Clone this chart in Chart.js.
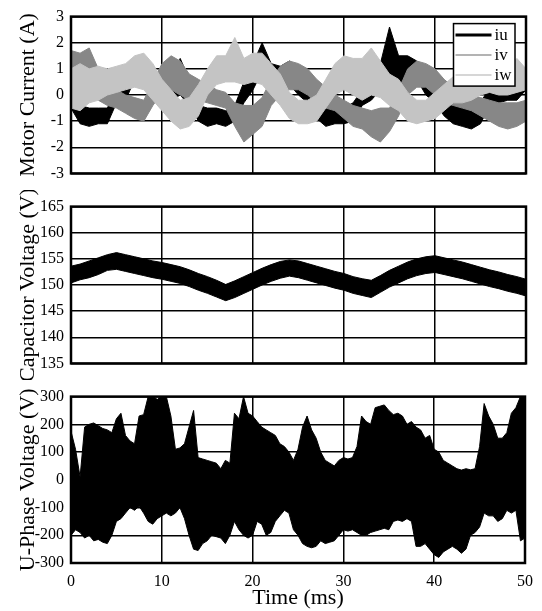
<!DOCTYPE html>
<html>
<head>
<meta charset="utf-8">
<script src="https://cdn.jsdelivr.net/npm/chart.js@4.4.1/dist/chart.umd.min.js"></script>
<style>
html, body { margin: 0; background: #fff; }
#wrap { position: relative; width: 542px; height: 611px; }
canvas { position: absolute; left: 0; }
</style>
</head>
<body>
<div id="wrap">
  <canvas id="c1" width="542" height="190" style="top:0"></canvas>
  <canvas id="c2" width="542" height="190" style="top:190px"></canvas>
  <canvas id="c3" width="542" height="231" style="top:380px"></canvas>
</div>
<script>
'use strict';
// time axis, ms
const tMs = [0,1,2,3,4,5,6,7,8,9,10,11,12,13,14,15,16,17,18,19,20,21,22,23,24,25,26,27,28,29,30,31,32,33,34,35,36,37,38,39,40,41,42,43,44,45,46,47,48,49,50];
const tHalf = [0,0.5,1,1.5,2,2.5,3,3.5,4,4.5,5,5.5,6,6.5,7,7.5,8,8.5,9,9.5,10,10.5,11,11.5,12,12.5,13,13.5,14,14.5,15,15.5,16,16.5,17,17.5,18,18.5,19,19.5,20,20.5,21,21.5,22,22.5,23,23.5,24,24.5,25,25.5,26,26.5,27,27.5,28,28.5,29,29.5,30,30.5,31,31.5,32,32.5,33,33.5,34,34.5,35,35.5,36,36.5,37,37.5,38,38.5,39,39.5,40,40.5,41,41.5,42,42.5,43,43.5,44,44.5,45,45.5,46,46.5,47,47.5,48,48.5,49,49.5,50];
const timeTicks = [0, 10, 20, 30, 40, 50];

// motor currents (A): upper / lower edge of each noisy trace
const iuHi = [0.3,-0.4,-0.5,-0.5,-0.5,0.3,0.6,1.3,1.0,0.8,0.5,0.5,1.4,0.6,-0.4,-0.5,-0.5,-0.6,-0.4,0.5,1.2,2.0,1.2,1.1,1.3,1.0,0.4,-0.2,-0.4,-0.4,-0.5,-0.3,0.2,0.4,1.2,2.6,1.5,1.5,1.3,0.6,0.3,-0.2,-0.3,-0.4,-0.5,-0.3,0.3,0.2,0.2,0.1,0.7];
const iuLo = [-0.5,-1.1,-1.2,-1.1,-1.1,-0.3,-0.2,0.6,0.3,0.1,-0.3,-0.2,0.0,-0.4,-1.0,-1.2,-1.1,-1.2,-1.0,-0.3,0.2,0.9,0.4,0.2,0.4,0.0,-0.3,-0.9,-1.2,-1.1,-1.1,-1.0,-0.4,-0.2,0.2,0.8,0.4,0.7,0.6,0.0,-0.3,-0.8,-1.1,-1.2,-1.3,-1.1,-0.4,-0.3,-0.2,-0.2,0.2];
const ivHi = [1.7,1.6,1.8,1.0,0.6,0.2,0.0,-0.1,-0.2,0.5,1.2,1.5,1.3,0.8,0.6,0.4,0.2,0.1,-0.3,-0.4,-0.4,-0.1,0.6,1.1,1.3,1.2,1.0,0.6,0.3,0.0,-0.2,-0.4,-0.5,-0.6,-0.5,-0.5,0.2,1.0,1.3,1.2,1.0,0.6,0.3,0.2,0.0,-0.1,-0.2,-0.3,-0.3,-0.3,-0.2];
const ivLo = [0.2,0.0,0.4,-0.2,-0.4,-0.5,-0.7,-0.9,-1.0,-0.4,0.1,0.2,0.0,-0.2,-0.2,-0.3,-0.4,-0.5,-1.2,-1.8,-1.5,-1.2,-0.4,0.0,0.2,0.2,0.0,-0.3,-0.5,-0.6,-0.9,-1.2,-1.3,-1.6,-1.8,-1.4,-0.8,0.0,0.3,0.3,0.0,-0.3,-0.4,-0.5,-0.6,-0.8,-1.0,-1.2,-1.3,-1.2,-1.0];
const iwHi = [1.0,1.2,1.0,1.1,1.0,1.1,1.2,1.5,1.6,1.2,0.6,0.2,-0.2,-0.1,0.4,1.0,1.5,1.5,2.2,1.4,1.6,1.6,1.2,0.8,0.1,-0.2,-0.2,0.0,0.6,1.2,1.5,1.4,1.4,1.8,1.3,0.8,0.6,0.1,-0.2,-0.2,0.1,0.4,0.7,0.8,0.9,1.0,1.3,1.1,1.0,1.4,1.0];
const iwLo = [-0.5,-0.6,-0.3,-0.2,0.0,0.1,0.2,0.3,0.2,-0.2,-0.6,-1.0,-1.3,-1.2,-0.8,0.0,0.4,0.5,0.5,0.4,0.5,0.4,0.0,-0.4,-0.9,-1.1,-1.1,-1.0,-0.5,0.0,0.2,0.0,-0.2,0.0,-0.1,-0.4,-0.6,-1.0,-1.1,-1.0,-0.9,-0.6,-0.3,-0.3,-0.2,0.0,0.1,0.0,0.0,0.1,0.2];

// capacitor voltage (V)
const capHi = [153.6,154.0,154.6,155.2,155.8,156.2,155.8,155.4,155.0,154.6,154.3,153.9,153.5,152.9,152.2,151.6,150.9,150.1,150.8,151.6,152.4,153.2,153.9,154.5,154.8,154.6,154.1,153.6,153.1,152.6,152.2,151.6,151.2,150.9,151.8,152.8,153.6,154.4,155.0,155.4,155.6,155.2,154.8,154.4,153.9,153.4,152.9,152.5,152.0,151.6,151.1];
const capLo = [150.4,151.0,151.4,152.0,152.8,153.0,152.6,152.2,151.8,151.4,151.1,150.7,150.3,149.7,149.0,148.4,147.7,147.0,147.6,148.4,149.2,150.0,150.7,151.3,151.7,151.4,150.9,150.4,149.9,149.4,149.0,148.4,148.0,147.6,148.6,149.6,150.4,151.2,151.8,152.2,152.4,152.0,151.6,151.2,150.7,150.2,149.7,149.3,148.8,148.4,147.9];

// U-phase voltage (V), 0.5 ms steps
const uHi = [175,110,10,190,200,205,195,185,180,170,220,240,160,140,130,230,235,300,300,290,300,300,230,110,115,130,190,250,80,75,70,65,60,40,70,60,240,220,300,240,230,210,190,180,170,160,130,120,100,70,110,190,230,180,150,100,70,60,50,70,80,75,80,120,230,210,200,260,265,270,250,235,240,230,200,210,190,180,150,160,110,100,70,60,50,40,35,40,36,40,120,275,230,200,150,150,170,240,260,300,300];
const uLo = [-200,-180,-190,-210,-200,-220,-215,-225,-230,-200,-150,-140,-120,-100,-110,-95,-120,-150,-160,-140,-130,-120,-130,-120,-100,-140,-200,-250,-255,-230,-220,-200,-205,-210,-230,-200,-150,-180,-200,-210,-200,-150,-160,-200,-190,-150,-130,-110,-120,-180,-200,-230,-240,-245,-240,-220,-230,-225,-220,-200,-180,-185,-180,-190,-200,-200,-190,-185,-180,-175,-180,-150,-145,-150,-140,-150,-240,-240,-230,-250,-270,-280,-260,-250,-240,-250,-265,-250,-200,-190,-170,-120,-130,-130,-150,-140,-110,-120,-110,-220,-210];

const legendNames = ['iu', 'iv', 'iw'];
const legendColors = ['#000000', '#9a9a9a', '#c8c8c8'];
const legendWidths = [3, 1.5, 1.5];
const bandColors = ['#000000', '#878787', '#c4c4c4'];

Chart.defaults.font.family = '"Liberation Serif", "Times New Roman", serif';
Chart.defaults.color = '#000';

const pts = (xs, ys) => xs.map((x, i) => ({x, y: ys[i]}));
function band(label, xs, hi, lo, color, order) {
  return [
    {label, data: pts(xs, hi), fill: '+1', backgroundColor: color, borderColor: color, borderWidth: 1, pointRadius: 0, order},
    {label: label + '_lo', data: pts(xs, lo), fill: false, borderColor: color, borderWidth: 1, pointRadius: 0, order}
  ];
}

// thick box round each plot
const frame = {
  id: 'frame',
  afterDraw(c) {
    const {ctx, chartArea: a} = c;
    ctx.save();
    ctx.lineWidth = 2.5; ctx.strokeStyle = '#000';
    ctx.strokeRect(a.left, a.top, a.right - a.left, a.bottom - a.top);
    ctx.restore();
  }
};

// boxed legend inside the current plot
const keyBox = {
  id: 'keyBox',
  afterDraw(c) {
    const {ctx, chartArea: a} = c;
    const x = a.right - 72.5, y = a.top + 7, w = 61.5, h = 62.5;
    ctx.save();
    ctx.fillStyle = '#fff'; ctx.fillRect(x, y, w, h);
    ctx.lineWidth = 1.5; ctx.strokeStyle = '#000'; ctx.strokeRect(x, y, w, h);
    ctx.font = '17px "Liberation Serif"'; ctx.textBaseline = 'middle'; ctx.fillStyle = '#000';
    legendNames.forEach((n, i) => {
      const ly = y + 11.5 + i * 20;
      ctx.strokeStyle = legendColors[i]; ctx.lineWidth = legendWidths[i];
      ctx.beginPath(); ctx.moveTo(x + 2, ly); ctx.lineTo(x + 38, ly); ctx.stroke();
      ctx.fillText(n, x + 41, ly);
    });
    ctx.restore();
  }
};

function panel(id, datasets, yMin, yMax, yStep, yTitle, opts) {
  const showX = opts.showX;
  return new Chart(document.getElementById(id), {
    type: 'line',
    data: {datasets},
    options: {
      responsive: false, animation: false,
      layout: {padding: {top: opts.top, right: 16, left: 0, bottom: 0}},
      plugins: {legend: {display: false}, tooltip: {enabled: false}, filler: {drawTime: 'beforeDatasetDraw'}},
      scales: {
        x: {
          type: 'linear', min: 0, max: 50,
          afterBuildTicks: s => { s.ticks = timeTicks.map(v => ({value: v})); },
          afterFit: s => { s.height = opts.xh; },
          grid: {color: '#000', lineWidth: 1.5, drawTicks: false},
          border: {display: false},
          ticks: {display: showX, font: {size: 16}, padding: 9, maxRotation: 0},
          title: {display: showX, text: 'Time (ms)', font: {size: 22}, padding: {top: 0, bottom: 0}}
        },
        y: {
          min: yMin, max: yMax,
          afterFit: s => { s.width = 71; },
          grid: {color: '#000', lineWidth: 1.5, drawTicks: false},
          border: {display: false},
          ticks: {stepSize: yStep, font: {size: 16}, padding: 7},
          title: {display: true, text: yTitle, font: {size: 22}, padding: {top: 15, bottom: 0}}
        }
      }
    },
    plugins: opts.legend ? [frame, keyBox] : [frame]
  });
}

panel('c1', [
  ...band('iw', tMs, iwHi, iwLo, bandColors[2], 1),
  ...band('iv', tMs, ivHi, ivLo, bandColors[1], 2),
  ...band('iu', tMs, iuHi, iuLo, bandColors[0], 3)
], -3, 3, 1, 'Motor Current (A)', {top: 12, xh: 10, showX: false, legend: true});

panel('c2', band('Vc', tMs, capHi, capLo, '#000', 1),
  135, 165, 5, 'Capacitor Voltage (V)', {top: 16, xh: 11, showX: false});

panel('c3', band('Vu', tHalf, uHi, uLo, '#000', 1),
  -300, 300, 100, 'U-Phase Voltage (V)', {top: 16, xh: 48, showX: true});
</script>
</body>
</html>
